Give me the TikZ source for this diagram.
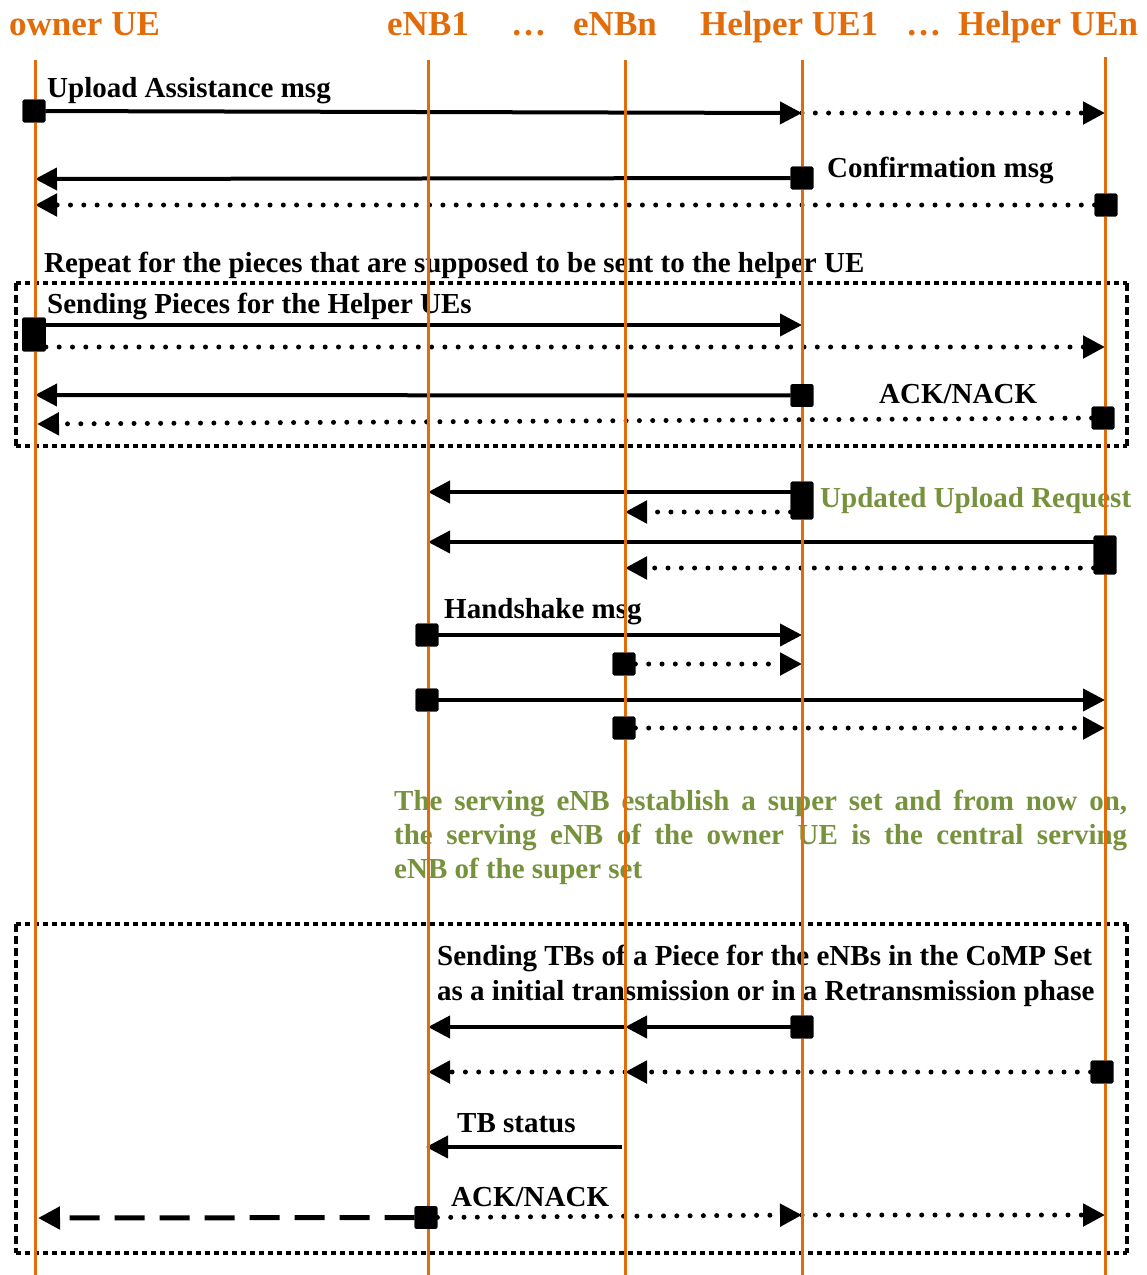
\documentclass[tikz,border=0pt]{standalone}
\usepackage{fontspec}
\setmainfont{Liberation Serif}
\usetikzlibrary{arrows.meta}
\definecolor{lifeorange}{HTML}{E36C0A}
\definecolor{notegreen}{HTML}{76923C}
\begin{document}
\begin{tikzpicture}[x=1pt,y=-1pt,
  life/.style={draw=lifeorange,line width=3pt},
  head/.style={anchor=base west,inner sep=0pt,text=lifeorange,font=\fontsize{35}{40}\selectfont\bfseries},
  lbl/.style={anchor=base west,inner sep=0pt,font=\fontsize{29}{34}\selectfont\bfseries},
  note/.style={lbl,text=notegreen},
  act/.style={fill=black,draw=black,line width=0.8pt,rounded corners=1.5pt,inner sep=0pt,
              minimum width=22pt,minimum height=22pt},
  msg/.style={line width=4pt,-{Triangle[length=22pt,width=22pt]}},
  dotmsg/.style={msg,line width=5pt,line cap=round,dash pattern=on 0pt off 13.3pt},
  dashmsg/.style={msg,line width=5pt,dash pattern=on 30pt off 15pt},
  framerow/.style={line width=4pt,dash pattern=on 5pt off 4pt},
  framecol/.style={line width=3.5pt,dash pattern=on 8pt off 4pt},
]
\useasboundingbox (0,0) rectangle (1147,1275);

% column headings
\node[head] (hOwner) at (9,35) {owner UE};
\node[head] (hEnb1) at (387,35) {eNB1};
\node[head] (hDotsA) at (511,35) {…};
\node[head] (hEnbn) at (573,35) {eNBn};
\node[head] (hHue1) at (700,35) {Helper UE1};
\node[head] (hDotsB) at (906,35) {…};
\node[head] (hHuen) at (958,35) {Helper UEn};

% lifeline end points
\coordinate (oT) at (35,60);   \coordinate (oB) at (35,1275);
\coordinate (e1T) at (428,60); \coordinate (e1B) at (428,1275);
\coordinate (enT) at (625,60); \coordinate (enB) at (625,1275);
\coordinate (h1T) at (802,60); \coordinate (h1B) at (802,1275);
\coordinate (hnT) at (1105,57); \coordinate (hnB) at (1105,1275);

% message labels and notes
\node[lbl] (lUpload) at (47,97) {Upload Assistance msg};
\node[lbl] (lConfirm) at (827,177) {Confirmation msg};
\node[lbl] (lRepeat) at (44,272) {Repeat for the pieces that are supposed to be sent to the helper UE};
\node[lbl] (lPieces) at (47,313) {Sending Pieces for the Helper UEs};
\node[lbl] (lAckA) at (879,403) {ACK/NACK};
\node[note] (lUpdated) at (820,507) {Updated Upload Request};
\node[lbl] (lHand) at (444,618) {Handshake msg};
\node[note] (pA) at (394,810) {\makebox[733pt][s]{The serving eNB establish a super set and from now on,}};
\node[note] (pB) at (394,844) {\makebox[733pt][s]{the serving eNB of the owner UE is the central serving}};
\node[note] (pC) at (394,878) {eNB of the super set};
\node[lbl] (lTbsA) at (437,965) {Sending TBs of a Piece for the eNBs in the CoMP Set};
\node[lbl] (lTbsB) at (437,1000) {as a initial transmission or in a Retransmission phase};
\node[lbl] (lStatus) at (457,1132) {TB status};
\node[lbl] (lAckB) at (451,1206) {ACK/NACK};

% dotted frames of the repeated phases
\coordinate (fAnw) at (16,283);  \coordinate (fAse) at (1127,446);
\coordinate (fBnw) at (16,924);  \coordinate (fBse) at (1127,1253);
\draw[framerow] (fAnw) -- (fAnw -| fAse) (fAnw |- fAse) -- (fAse);
\draw[framecol] (fAnw) -- (fAnw |- fAse) (fAnw -| fAse) -- (fAse);
\draw[framerow] (fBnw) -- (fBnw -| fBse) (fBnw |- fBse) -- (fBse);
\draw[framecol] (fBnw) -- (fBnw |- fBse) (fBnw -| fBse) -- (fBse);

% activation squares
\node[act] (a1) at (34,111) {};
\node[act] (a2) at (802,178) {};
\node[act] (a3) at (1106,205) {};
\node[act,minimum width=23pt,minimum height=33pt] (a4) at (34,334.5) {};
\node[act] (a5) at (802,395.5) {};
\node[act] (a6) at (1103,418) {};
\node[act,minimum height=37pt] (a7) at (802,500.5) {};
\node[act,minimum height=38pt] (a8) at (1105,555) {};
\node[act] (a9) at (427,635) {};
\node[act] (a10) at (624,664) {};
\node[act] (a11) at (427,700) {};
\node[act] (a12) at (624,728) {};
\node[act] (a13) at (802,1027) {};
\node[act] (a14) at (1102,1072) {};
\node[act] (a15) at (426,1217.5) {};

% arrow end points on the lifelines
\coordinate (m1a) at (802,113);  \coordinate (m1b) at (1105,113);
\coordinate (m2) at (35,179);
\coordinate (m3) at (35,205);
\coordinate (m4a) at (802,325);  \coordinate (m4b) at (1105,347);
\coordinate (m5) at (35,395);
\coordinate (m6) at (37,424);
\coordinate (u1a) at (428,492);  \coordinate (u1b) at (625,512);
\coordinate (u2a) at (428,542);  \coordinate (u2b) at (625,568);
\coordinate (k1) at (802,635);
\coordinate (k2) at (802,664);
\coordinate (k3) at (1105,700);
\coordinate (k4) at (1105,728);
\coordinate (t1a) at (625,1027); \coordinate (t1b) at (428,1027);
\coordinate (t2a) at (625,1072); \coordinate (t2b) at (428,1072);
\coordinate (s1) at (622,1147);  \coordinate (s2) at (426,1147);
\coordinate (r1) at (38,1218);
\coordinate (r2) at (802,1215);  \coordinate (r3) at (1105,1215);

% messages
\draw[msg] (a1) -- (m1a);
\draw[dotmsg] (m1a) -- (m1b);
\draw[msg] (a2) -- (m2);
\draw[dotmsg] (a3) -- (m3);
\draw[msg] (a4.east |- m4a) -- (m4a);
\draw[dotmsg] (a4.east |- m4b) -- (m4b);
\draw[msg] (a5) -- (m5);
\draw[dotmsg] (a6) -- (m6);
\draw[msg] (a7.west |- u1a) -- (u1a);
\draw[dotmsg] (a7.west |- u1b) -- (u1b);
\draw[msg] (a8.west |- u2a) -- (u2a);
\draw[dotmsg] (a8.west |- u2b) -- (u2b);
\draw[msg] (a9) -- (k1);
\draw[dotmsg] (a10) -- (k2);
\draw[msg] (a11) -- (k3);
\draw[dotmsg] (a12) -- (k4);
\draw[msg] (a13) -- (t1a);
\draw[msg] (t1a) -- (t1b);
\draw[dotmsg] (a14) -- (t2a);
\draw[dotmsg] (t2a) -- (t2b);
\draw[msg] (s1) -- (s2);
\draw[dashmsg] (a15) -- (r1);
\draw[dotmsg] (a15) -- (r2);
\draw[dotmsg] (r2) -- (r3);

% lifelines
\draw[life] (oT) -- (oB);
\draw[life] (e1T) -- (e1B);
\draw[life] (enT) -- (enB);
\draw[life] (h1T) -- (h1B);
\draw[life] (hnT) -- (hnB);

% squares again on top of the lifelines
\foreach \n in {a1,a2,a3,a4,a5,a6,a7,a8,a9,a10,a11,a12,a13,a14,a15}
  \fill[rounded corners=1.5pt] (\n.south west) rectangle (\n.north east);
\end{tikzpicture}
\end{document}
